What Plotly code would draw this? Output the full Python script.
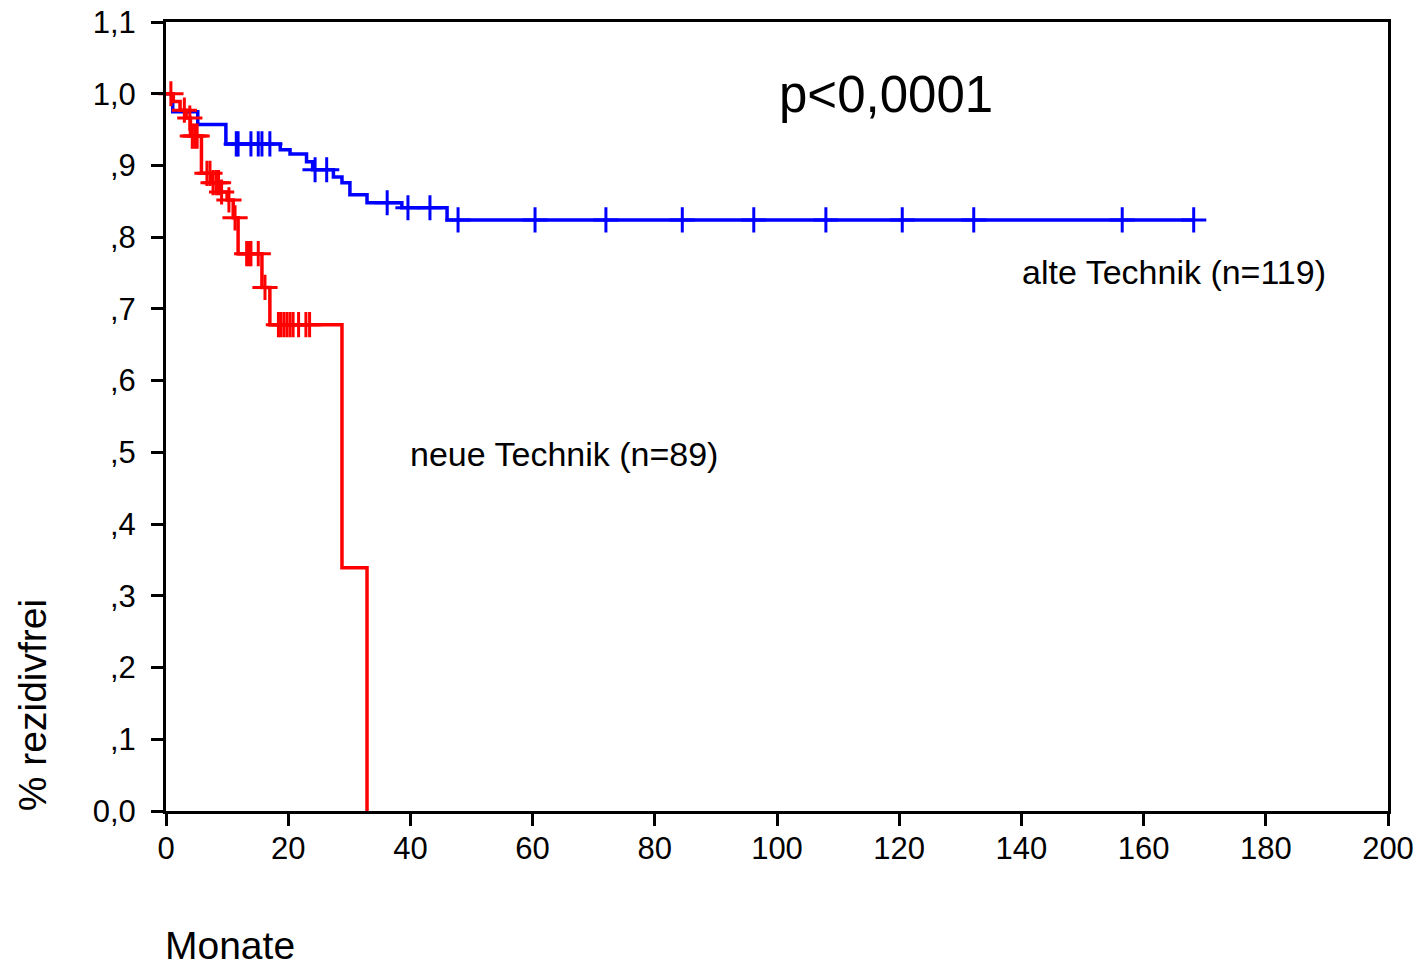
import numpy as np
import plotly.graph_objects as go

# ---- data ----
# alte Technik (n=119): step function (months, survival)
alt_times = [0, 1.1, 5.2, 9.8, 18.7, 20.3, 23.0, 24.0, 27.4, 28.8, 30.1, 32.9, 38.6, 46.0]
alt_surv = [1.0, 0.975, 0.957, 0.930, 0.922, 0.916, 0.905, 0.894, 0.884, 0.876, 0.859, 0.848, 0.841, 0.824]
alt_censor = [11.5, 11.8, 13.9, 15.1, 15.7, 17.0, 24.4, 26.3, 36.2, 39.6, 43.2, 47.8,
              60.4, 72.0, 84.5, 96.2, 108.0, 120.5, 132.2, 156.5, 168.2]

# neue Technik (n=89)
neu_times = [0, 1.2, 2.3, 3.3, 4.0, 5.8, 7.5, 9.0, 10.0, 11.0, 11.8, 15.7, 17.0, 28.8, 32.9]
neu_surv = [1.0, 0.989, 0.977, 0.966, 0.941, 0.889, 0.876, 0.863, 0.852, 0.827, 0.777, 0.730, 0.678, 0.339, 0.0]
neu_censor = [0.8, 3.0, 3.9, 4.3, 4.7, 5.1, 6.7, 7.2, 7.7, 8.2, 8.6, 9.1, 10.3, 11.3,
              13.2, 13.6, 13.9, 15.1, 16.2, 18.4, 18.8, 19.3, 19.8, 20.3, 20.8, 21.7, 22.9, 23.5]

x_ticks = [0, 20, 40, 60, 80, 100, 120, 140, 160, 180, 200]
y_ticks = [0.0, 0.1, 0.2, 0.3, 0.4, 0.5, 0.6, 0.7, 0.8, 0.9, 1.0, 1.1]
y_ticklabels = ["0,0", ",1", ",2", ",3", ",4", ",5", ",6", ",7", ",8", ",9", "1,0", "1,1"]

FONT = "Liberation Sans, Arial, sans-serif"


def step_value(times, surv, t):
    i = np.searchsorted(np.array(times), t, side="right") - 1
    return surv[i]


fig = go.Figure()


def add_group(times, surv, censor, color, extend_to=None):
    xs = list(times)
    ys = list(surv)
    if extend_to is not None and extend_to > xs[-1]:
        xs.append(extend_to)
        ys.append(ys[-1])
    fig.add_trace(go.Scatter(x=xs, y=ys, mode="lines", line=dict(shape="hv", color=color, width=3.5),
                             hoverinfo="skip", showlegend=False, cliponaxis=False))
    cy = [step_value(times, surv, t) for t in censor]
    fig.add_trace(go.Scatter(x=censor, y=cy, mode="markers",
                             marker=dict(symbol="cross-thin", size=18, color=color,
                                         line=dict(color=color, width=3)),
                             hoverinfo="skip", showlegend=False, cliponaxis=False))


add_group(alt_times, alt_surv, alt_censor, "#0000ff", extend_to=max(alt_censor))
add_group(neu_times, neu_surv, neu_censor, "#ff0000")

axis_common = dict(showline=True, linecolor="black", linewidth=3, mirror=True,
                   ticks="outside", ticklen=12, tickwidth=3, tickcolor="black",
                   showgrid=False, zeroline=False, automargin=False,
                   ticklabeloverflow="allow",
                   tickfont=dict(family=FONT, size=31, color="black"))

fig.update_xaxes(range=[0, 200], tickvals=x_ticks, ticktext=[str(v) for v in x_ticks],
                 ticklabelstandoff=-4, **axis_common)
fig.update_yaxes(range=[0, 1.1], tickvals=y_ticks, ticktext=y_ticklabels,
                 ticklabelstandoff=9, **axis_common)

annots = [
    dict(text="p<0,0001", x=117.8, y=0.999, xref="x", yref="y", font=dict(size=51)),
    dict(text="alte Technik (n=119)", x=165.0, y=0.751, xref="x", yref="y", font=dict(size=34)),
    dict(text="neue Technik (n=89)", x=65.1, y=0.498, xref="x", yref="y", font=dict(size=34)),
    dict(text="Monate", x=-0.0025, y=-0.1705, xref="paper", yref="paper", xanchor="left",
         font=dict(size=39)),
    dict(text="% rezidivfrei", x=-0.1097, y=0.134, xref="paper", yref="paper", textangle=-90,
         font=dict(size=39)),
]
for a in annots:
    a.setdefault("showarrow", False)
    a.setdefault("xanchor", "center")
    a["yanchor"] = "middle"
    a["font"] = dict(family=FONT, color="black", size=a["font"]["size"])
    fig.add_annotation(**a)

fig.update_layout(width=1416, height=963, margin=dict(l=166, r=28, t=22, b=152),
                  plot_bgcolor="white", paper_bgcolor="white")

# remove the default page margin so the figure fills the window exactly
fig.write_html("out.html", config={"displayModeBar": False},
               post_script="document.body.style.margin='0';document.body.style.overflow='hidden';")
